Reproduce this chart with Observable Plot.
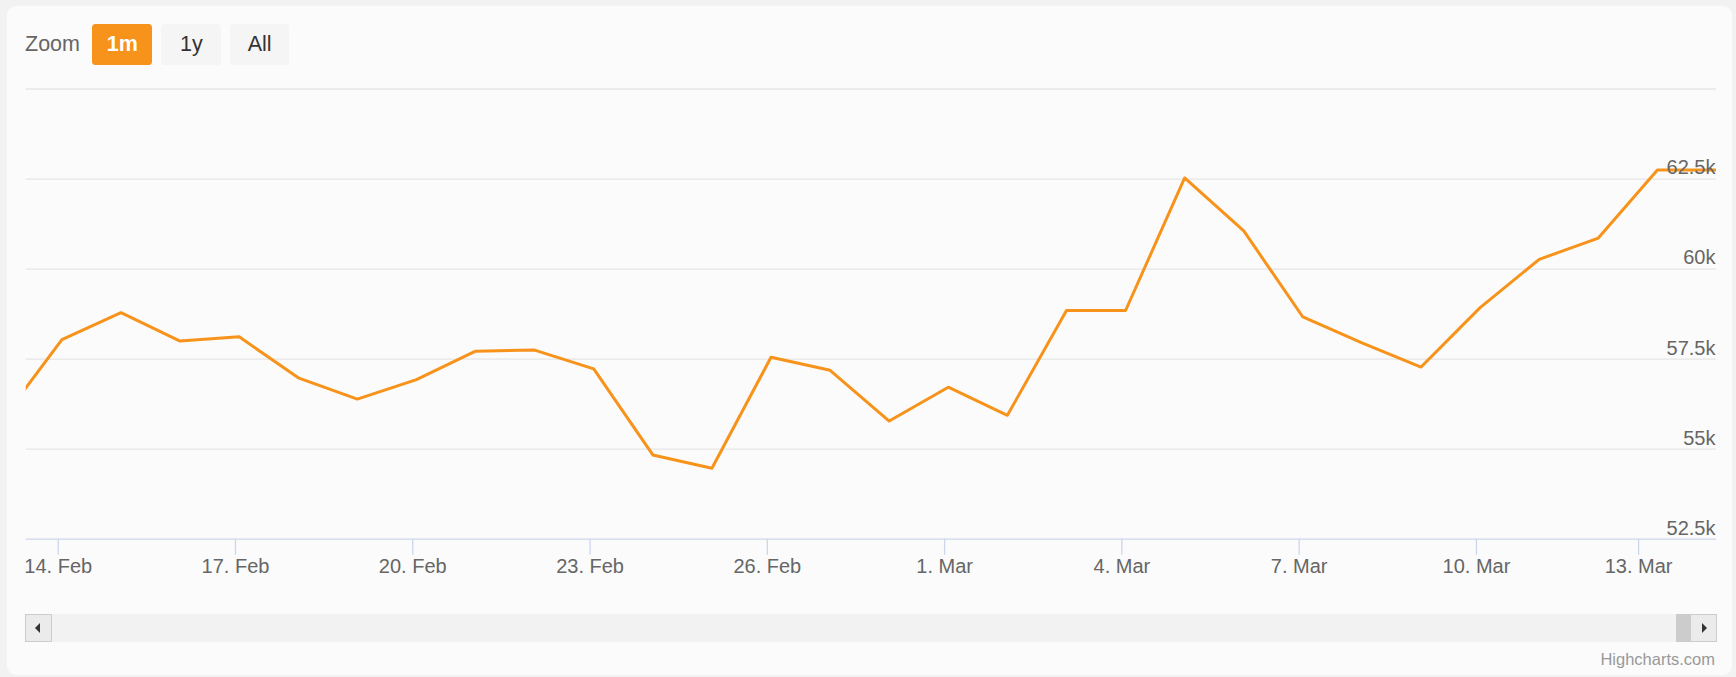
<!DOCTYPE html>
<html>
<head>
<meta charset="utf-8">
<script src="https://cdn.jsdelivr.net/npm/d3@7"></script>
<script src="https://cdn.jsdelivr.net/npm/@observablehq/plot@0.6"></script>
<style>
  html, body { margin: 0; padding: 0; background: #f2f2f2; }
  body { width: 1736px; height: 677px; overflow: hidden; font-family: "Liberation Sans", Helvetica, Arial, sans-serif; }
  #wrap { position: relative; width: 1736px; height: 677px; }
  .card { position: absolute; left: 7px; top: 6px; width: 1725px; height: 669px; background: #fbfbfb; border-radius: 9px; }
  .zoomlbl { position: absolute; left: 25px; top: 24.3px; height: 41px; line-height: 41px; font-size: 21.5px; color: #666666; }
  .btn { position: absolute; top: 24.3px; height: 41px; line-height: 41px; width: 60px; text-align: center; font-size: 21.5px; color: #333333; background: #f5f5f5; border-radius: 3.5px; }
  .btn.active { background: #f7931a; color: #ffffff; font-weight: bold; }
  #chart { position: absolute; left: 0; top: 70px; }
  .track { position: absolute; left: 24.5px; top: 614px; width: 1691.5px; height: 27.5px; background: #f2f2f2; }
  .sbtn { position: absolute; top: 614px; width: 25px; height: 25.5px; background: #ebebeb; border: 1px solid #cccccc; }
  .thumb { position: absolute; left: 1676px; top: 614px; width: 13.5px; height: 27.5px; background: #cccccc; }
  .arrow-l { position: absolute; left: 9px; top: 8px; width: 0; height: 0; border-top: 5px solid transparent; border-bottom: 5px solid transparent; border-right: 5px solid #333; }
  .arrow-r { position: absolute; left: 11px; top: 8px; width: 0; height: 0; border-top: 5px solid transparent; border-bottom: 5px solid transparent; border-left: 5px solid #333; }
  .credits { position: absolute; right: 21px; top: 650px; font-size: 16.5px; color: #999999; }
</style>
</head>
<body>
<div id="wrap">
  <div class="card"></div>
  <div class="zoomlbl">Zoom</div>
  <div class="btn active" style="left:92.3px">1m</div>
  <div class="btn" style="left:161.3px">1y</div>
  <div class="btn" style="left:230px; width:59.3px">All</div>
  <div id="chart"></div>
  <div class="track"></div>
  <div class="thumb"></div>
  <div class="sbtn" style="left:24.5px"><div class="arrow-l"></div></div>
  <div class="sbtn" style="left:1689.5px"><div class="arrow-r"></div></div>
  <div class="credits">Highcharts.com</div>
</div>
<script>
// ---- data ----
const dates = [
  "2021-02-13T01:30Z", "2021-02-14T01:30Z", "2021-02-15T01:30Z", "2021-02-16T01:30Z",
  "2021-02-17T01:30Z", "2021-02-18T01:30Z", "2021-02-19T01:30Z", "2021-02-20T01:30Z",
  "2021-02-21T01:30Z", "2021-02-22T01:30Z", "2021-02-23T01:30Z", "2021-02-24T01:30Z",
  "2021-02-25T01:30Z", "2021-02-26T01:30Z", "2021-02-27T01:30Z", "2021-02-28T01:30Z",
  "2021-03-01T01:30Z", "2021-03-02T01:30Z", "2021-03-03T01:30Z", "2021-03-04T01:30Z",
  "2021-03-05T01:30Z", "2021-03-06T01:30Z", "2021-03-07T01:30Z", "2021-03-08T01:30Z",
  "2021-03-09T01:30Z", "2021-03-10T01:30Z", "2021-03-11T01:30Z", "2021-03-12T01:30Z",
  "2021-03-13T10:30Z", "2021-03-13T11:00Z"
];
const prices = [
  55850, 58040, 58790, 58000, 58120, 56980, 56390, 56930,
  57720, 57750, 57230, 54840, 54470, 57550, 57190, 55780,
  56720, 55940, 58850, 58850, 62530, 61060, 58670, 57950,
  57280, 58930, 60270, 60860, 62750, 62750
];
const xTickDates = ["2021-02-14T00:00Z", "2021-02-17T00:00Z", "2021-02-20T00:00Z", "2021-02-23T00:00Z",
  "2021-02-26T00:00Z", "2021-03-01T00:00Z", "2021-03-04T00:00Z", "2021-03-07T00:00Z",
  "2021-03-10T00:00Z", "2021-03-13T00:00Z"];
const xTickLabels = ["14. Feb", "17. Feb", "20. Feb", "23. Feb", "26. Feb", "1. Mar", "4. Mar", "7. Mar", "10. Mar", "13. Mar"];
const yTicks = [52500, 55000, 57500, 60000, 62500];
const yTickLabels = ["52.5k", "55k", "57.5k", "60k", "62.5k"];
const yGrid = [55000, 57500, 60000, 62500, 65000];
const yDomain = [52500, 65000];
const rangeStart = "2021-02-13T11:00Z"; // 1 month window

// ---- ordinal (Highcharts stock style) positions ----
const times = dates.map(d => new Date(d).getTime());
function ordinal(t) {
  for (let i = 0; i < times.length - 1; i++) {
    if (t >= times[i] && t <= times[i + 1]) return i + (t - times[i]) / (times[i + 1] - times[i]);
  }
  return t < times[0] ? 0 : times.length - 1;
}
const data = prices.map((p, i) => ({i, price: p, date: new Date(dates[i])}));
const tickPos = xTickDates.map(d => ordinal(new Date(d).getTime()));
const labelByPos = new Map(tickPos.map((p, k) => [p, xTickLabels[k]]));
const yLabel = new Map(yTicks.map((v, k) => [v, yTickLabels[k]]));

const chart = Plot.plot({
  width: 1736,
  height: 530,
  marginTop: 18.5,
  marginBottom: 61.3,
  marginLeft: 25.7,
  marginRight: 20,
  style: {background: "transparent", fontSize: "20px", fontFamily: "'Liberation Sans', Helvetica, Arial, sans-serif", overflow: "visible"},
  x: {domain: [ordinal(new Date(rangeStart).getTime()), times.length - 1]},
  y: {domain: yDomain},
  marks: [
    Plot.gridY(yGrid, {stroke: "#e6e6e6", strokeOpacity: 1, strokeWidth: 1.3}),
    Plot.ruleY([yDomain[0]], {stroke: "#ccd6eb", strokeWidth: 1.3}),
    Plot.line(data, {x: "i", y: "price", stroke: "#f7931a", strokeWidth: 3, strokeLinejoin: "round", strokeLinecap: "round", clip: true}),
    Plot.axisX({ticks: tickPos, tickFormat: d => labelByPos.get(d), tickSize: 16, tickPadding: 4, stroke: "#ccd6eb", strokeWidth: 1.3, fill: "#666666", label: null}),
    Plot.axisY({anchor: "right", ticks: yTicks, tickFormat: d => yLabel.get(d), tickSize: 0, tickPadding: 0, textAnchor: "end", dx: -1, dy: -11, fill: "#666666", label: null})
  ]
});
document.getElementById("chart").appendChild(chart);
</script>
</body>
</html>
